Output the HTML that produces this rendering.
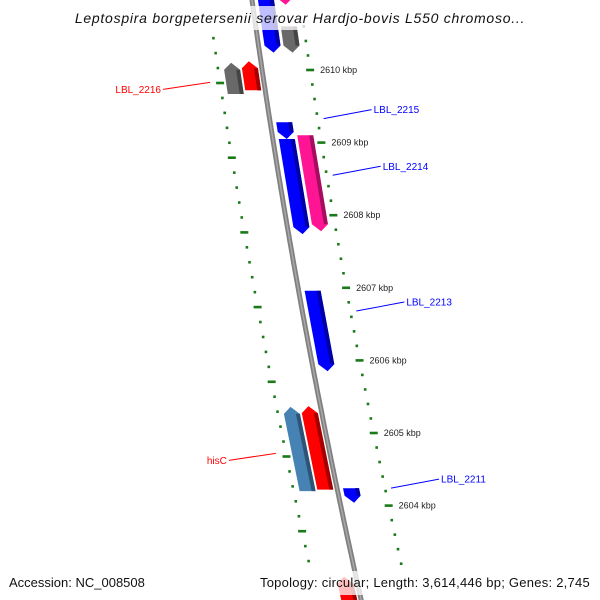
<!DOCTYPE html>
<html><head><meta charset="utf-8"><style>
body{margin:0;background:#fff}
svg{display:block;font-family:"Liberation Sans",sans-serif}
</style></head><body>
<svg id="map" width="600" height="600" viewBox="0 0 600 600" xmlns="http://www.w3.org/2000/svg">
<rect width="600" height="600" fill="#fff"/>
<g id="ticks"></g>
<path id="backbone" fill="none" stroke="#808080" stroke-width="5"/>
<path id="backbone-hi" fill="none" stroke="#a8a8a8" stroke-width="1.5"/>
<g id="genes"></g>
<g id="labels"></g>
<rect x="60" y="6" width="480" height="24" fill="#fff" opacity="0.75"/>
<text x="300" y="23" text-anchor="middle" font-size="14" letter-spacing="0.75" font-style="italic" fill="#111">Leptospira borgpetersenii serovar Hardjo-bovis L550 chromoso...</text>
<rect x="0" y="571" width="600" height="24" fill="#fff" opacity="0.75"/>
<text x="9" y="587" font-size="13" fill="#111">Accession: NC_008508</text>
<text x="590" y="587" font-size="13" letter-spacing="0.25" fill="#111" text-anchor="end">Topology: circular; Length: 3,614,446 bp; Genes: 2,745</text>
</svg>
<script>
// data (kbp coordinates)
const geneNames = ["top-blue","top-pink","top-gray","LBL_2216-gray","LBL_2216","LBL_2215","LBL_2214","LBL_2214-pink","LBL_2213","hisC","hisC-red","LBL_2211","bottom-red"];
const geneStart = [2610.97,2610.97,2610.60,2610.10,2610.12,2609.28,2609.05,2609.10,2606.96,2605.36,2605.37,2604.24,2603.02];
const geneEnd   = [2610.24,2610.90,2610.24,2609.67,2609.72,2609.05,2607.74,2607.78,2605.85,2604.20,2604.22,2604.04,2602.40];
const geneStrand= [1,1,1,-1,-1,1,1,1,1,-1,-1,1,-1];
const geneLane  = [1,2,2,2,1,1,1,2,1,2,1,1,1];
const geneColor = ["#0000ff","#ff1493","#696969","#696969","#ff0000","#0000ff","#0000ff","#ff1493","#0000ff","#4682b4","#ff0000","#0000ff","#ff0000"];
const labelText = ["LBL_2216","LBL_2215","LBL_2214","LBL_2213","hisC","LBL_2211"];
const labelKbp  = [2609.83,2609.33,2608.55,2606.68,2604.72,2604.24];
const labelSide = [-1,1,1,1,-1,1];
const labelColor= ["#ff0000","#0000ff","#0000ff","#0000ff","#ff0000","#0000ff"];
const majorKbp  = [2610,2609,2608,2607,2606,2605,2604];

const Y = k => 70 + (2610 - k) * 72.6;
const X = y => 252 + 0.14*y + 0.00007*y*y;
const NS="http://www.w3.org/2000/svg";
function mk(tag, attrs, parent){const e=document.createElementNS(NS,tag);for(const a in attrs)e.setAttribute(a,attrs[a]);parent.appendChild(e);return e;}

let d="";for(let y=-5;y<=605;y+=5)d+=(y<0?"M":"L")+X(y).toFixed(1)+","+y;
document.getElementById("backbone").setAttribute("d",d);
document.getElementById("backbone-hi").setAttribute("d",d);

const tg=document.getElementById("ticks");
for(let i=-10;i<=45;i++){
  const y=70+i*72.6/5; if(y<25||y>575) continue;
  const major=(i%5===0), x=X(y)+48;
  const r=mk("rect",major?{x:x-4,y:y-1.3,width:8,height:2.6}:{x:x-1.3,y:y-1.3,width:2.6,height:2.6},tg);
  r.setAttribute("fill","#1a7a1a");
  
  
}
majorKbp.forEach(k=>{const y=Y(k);
  const t=mk("text",{x:X(y)+58,y:y+3,"font-size":"9","fill":"#222"},tg);t.textContent=k+" kbp";
  
  
});
for(let i=-5;i<=45;i++){
  const y=83+i*74.7/5; if(y<30||y>575) continue;
  const major=(i%5===0), x=X(y)-44;
  const r=mk("rect",major?{x:x-4,y:y-1.3,width:8,height:2.6}:{x:x-1.3,y:y-1.3,width:2.6,height:2.6},tg);
  r.setAttribute("fill","#1a7a1a");
  
  
}

const gg=document.getElementById("genes");
function shade(c,f){const n=parseInt(c.slice(1),16);let r=(n>>16)&255,g=(n>>8)&255,b=n&255;return `rgb(${r*f|0},${g*f|0},${b*f|0})`;}
geneNames.forEach((nm,i)=>{
  let y1=Y(geneStart[i]),y2=Y(geneEnd[i]);
  const s=geneStrand[i], lane=geneLane[i];
  let a,b;
  if(s>0){a=lane===1?6:25;b=a+16;}else{b=lane===1?-4:-22;a=b-16;}
  const h=7, m=(a+b)/2;
  const poly=(a,b)=>{let p;
    if(s>0){p=[[X(y1)+a,y1],[X(y1)+b,y1],[X(y2-h)+b,y2-h],[X(y2)+m,y2],[X(y2-h)+a,y2-h]];}
    else{p=[[X(y1)+m,y1],[X(y1+h)+b,y1+h],[X(y2)+b,y2],[X(y2)+a,y2],[X(y1+h)+a,y1+h]];}
    return p.map(q=>q[0].toFixed(1)+","+q[1].toFixed(1)).join(" ");};
  const g=mk("g",{},gg);
  
  
  mk("polygon",{points:poly(a,b),fill:geneColor[i]},g);
  const ya=y1+(s<0?h:0), yb=y2-(s>0?h:0);
  const p2=[[X(ya)+b-4,ya],[X(ya)+b,ya],[X(yb)+b,yb],[X(yb)+b-4,yb]];
  mk("polygon",{points:p2.map(q=>q.join(",")).join(" "),fill:shade(geneColor[i],0.65)},g);
});

const lg=document.getElementById("labels");
labelText.forEach((t,i)=>{
  const y=Y(labelKbp[i]);
  let x1,x2,y2,tx,anchor;
  if(labelSide[i]>0){x1=X(y)+54;x2=x1+48;y2=y-9;tx=x2+2;anchor="start";}
  else{x1=X(y)-54;x2=x1-47;y2=y+7;tx=x2-2;anchor="end";}
  const ln=mk("line",{x1:x1,y1:y,x2:x2,y2:y2,stroke:labelColor[i],"stroke-width":1},lg);
  
  
  const tx_=mk("text",{x:tx,y:y2+3.5,"font-size":"10","fill":labelColor[i],"text-anchor":anchor},lg);
  tx_.textContent=t;
  
  
});
</script>
</body></html>
